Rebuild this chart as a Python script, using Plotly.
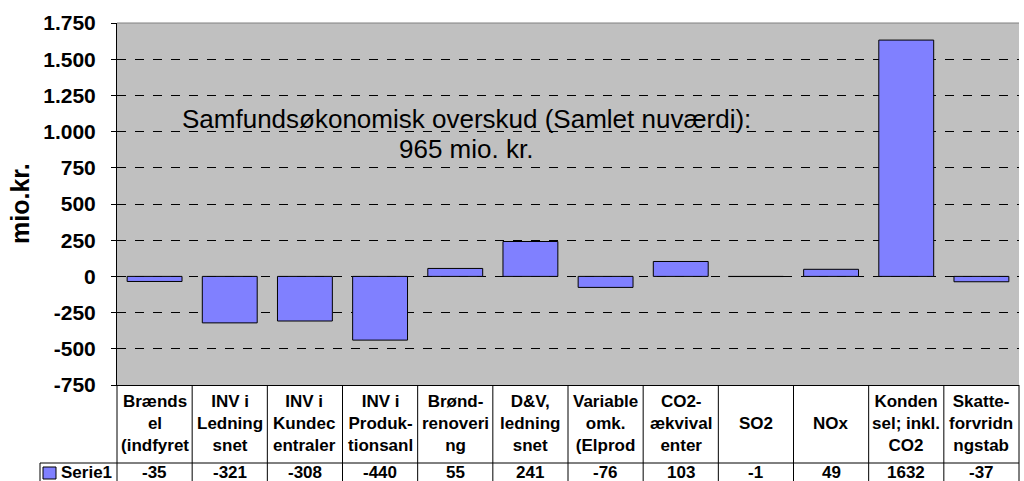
import plotly.graph_objects as go

# ---- data ----
cat_lines = [
    ["Brænds", "el", "(indfyret"],
    ["INV i", "Ledning", "snet"],
    ["INV i", "Kundec", "entraler"],
    ["INV i", "Produk-", "tionsanl"],
    ["Brønd-", "renoveri", "ng"],
    ["D&V,", "ledning", "snet"],
    ["Variable", "omk.", "(Elprod"],
    ["CO2-", "ækvival", "enter"],
    ["SO2"],
    ["NOx"],
    ["Konden", "sel; inkl.", "CO2"],
    ["Skatte-", "forvridn", "ngstab"],
]
categories = ["".join(l) for l in cat_lines]
values = [-35, -321, -308, -440, 55, 241, -76, 103, -1, 49, 1632, -37]
series_name = "Serie1"
y_ticks = list(range(-750, 1751, 250))
y_title = "mio.kr."
note_line1 = "Samfundsøkonomisk overskud (Samlet nuværdi):"
note_line2 = "965 mio. kr."

FONT = "Arial, 'Liberation Sans', Helvetica, sans-serif"
W, H = 1024, 481
L, R, T, B = 117, 5, 23, 96
pw, ph = W - L - R, H - T - B

def px(x):  # pixel x -> paper
    return (x - L) / pw

def py(y):  # pixel y -> paper
    return (H - B - y) / ph

fig = go.Figure(go.Bar(
    x=categories, y=values, name=series_name,
    marker=dict(color="#8080FF", line=dict(color="#000000", width=1)),
))

tick_text = [f"{v:,}".replace(",", ".") for v in y_ticks]

fig.update_layout(
    width=W, height=H,
    margin=dict(l=L, r=R, t=T, b=B),
    paper_bgcolor="white",
    plot_bgcolor="#C0C0C0",
    bargap=0.27,
    showlegend=False,
    font=dict(family=FONT, color="black"),
    xaxis=dict(showticklabels=False, showgrid=False, showline=True,
               linecolor="black", linewidth=1, ticks="", zeroline=False,
               range=[-0.5, len(categories) - 0.5]),
    yaxis=dict(range=[-750, 1750], tickvals=y_ticks, ticktext=tick_text,
               showgrid=True, gridcolor="black", griddash="dash", gridwidth=1,
               zeroline=False, showline=True, linecolor="black", linewidth=1,
               ticks="outside", ticklen=5, tickcolor="black",
               ticklabelstandoff=11,
               tickfont=dict(family=FONT, size=21, weight="bold", color="black")),
)

shapes = []
# top border of plot area
shapes.append(dict(type="line", xref="paper", yref="paper", x0=0, x1=1, y0=1, y1=1,
                   line=dict(color="#808080", width=1)))
# table vertical lines
n = len(categories)
for k in range(n + 1):
    xp = k / n
    shapes.append(dict(type="line", xref="paper", yref="paper", x0=xp, x1=xp,
                       y0=0, y1=py(H), line=dict(color="black", width=1)))
# horizontal line between label row and value row
shapes.append(dict(type="line", xref="paper", yref="paper", x0=px(40), x1=1,
                   y0=py(463), y1=py(463), line=dict(color="black", width=1)))
# left border of series row
shapes.append(dict(type="line", xref="paper", yref="paper", x0=px(40), x1=px(40),
                   y0=py(463), y1=py(H), line=dict(color="black", width=1)))
# legend key
shapes.append(dict(type="rect", xref="paper", yref="paper", x0=px(43), x1=px(56),
                   y0=py(479), y1=py(467), fillcolor="#8080FF",
                   line=dict(color="black", width=1)))

TF = dict(family=FONT, size=17, weight="bold", color="black")
annotations = []
for c, lines, v in zip(categories, cat_lines, values):
    annotations.append(dict(xref="x", yref="paper", x=c, y=py(423), text="<br>".join(lines),
                            showarrow=False, xanchor="center", yanchor="middle", font=TF))
    annotations.append(dict(xref="x", yref="paper", x=c, y=py(472), text=str(v),
                            showarrow=False, xanchor="center", yanchor="middle", font=TF))
annotations.append(dict(xref="paper", yref="paper", x=px(59), y=py(472), text=series_name,
                        showarrow=False, xanchor="left", yanchor="middle", font=TF))
annotations.append(dict(xref="paper", yref="paper", x=px(20), y=0.5, text=y_title,
                        textangle=-90, showarrow=False, xanchor="center", yanchor="middle",
                        font=dict(family=FONT, size=25, weight="bold", color="black")))
annotations.append(dict(xref="paper", yref="paper", x=px(466), y=py(119), text=note_line1,
                        showarrow=False, xanchor="center", yanchor="middle",
                        font=dict(family=FONT, size=26, color="black")))
annotations.append(dict(xref="paper", yref="paper", x=px(466), y=py(149), text=note_line2,
                        showarrow=False, xanchor="center", yanchor="middle",
                        font=dict(family=FONT, size=26, color="black")))

fig.update_layout(shapes=shapes, annotations=annotations)
fig.write_html("out.html", config={"displayModeBar": False},
               post_script="document.body.style.margin='0';")
